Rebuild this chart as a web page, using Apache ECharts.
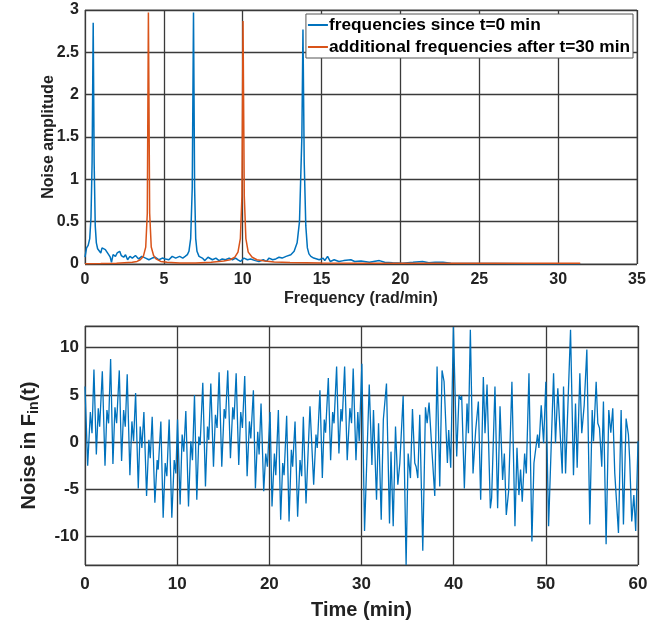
<!DOCTYPE html>
<html>
<head>
    <meta charset="utf-8"/>
    <script src="https://cdn.jsdelivr.net/npm/echarts@6/dist/echarts.min.js"></script>
    <style>html, body {margin: 0; padding: 0; background: #fff;}</style>
</head>
<body>
<div id="main" style="width: 670px;height:627px;"></div>
<script type="text/javascript">
    // spectrum, blue = frequencies since t=0
    var blueFreq = [0, 0.1, 0.2, 0.3, 0.38, 0.45, 0.52, 0.58, 0.65, 0.72, 0.8, 0.9, 1.0, 1.08, 1.2, 1.29, 1.4, 1.5, 1.6, 1.68,
        1.78, 1.93, 2.04, 2.2, 2.3, 2.45, 2.57, 2.7, 2.85, 3.0, 3.2, 3.4, 3.6, 3.84, 4.05, 4.26, 4.45, 4.69, 4.9, 5.1,
        5.32, 5.53, 5.75, 6.0, 6.2, 6.35, 6.49, 6.59, 6.7, 6.8, 6.88, 6.95, 7.02, 7.1, 7.23, 7.44, 7.6, 7.8, 8.08, 8.3,
        8.5, 8.7, 8.91, 9.14, 9.35, 9.55, 9.7, 9.86, 10.08, 10.3, 10.5, 10.8, 11.03, 11.3, 11.5, 11.67, 11.9, 12.1, 12.3, 12.5,
        12.75, 13.05, 13.26, 13.45, 13.6, 13.75, 13.82, 13.9, 14.0, 14.1, 14.2, 14.32, 14.5, 14.85, 15.1, 15.2, 15.38, 15.55, 15.8, 16.1,
        16.4, 16.86, 17.1, 17.5, 18.03, 18.3, 18.66, 19.0, 19.5, 20.14, 20.8, 21.4, 21.8, 22.2, 22.7, 23.2, 24.2, 26, 28, 31.4];
    var blueAmp = [0.08, 0.19, 0.22, 0.3, 0.55, 1.2, 2.85, 1.2, 0.45, 0.25, 0.18, 0.17, 0.13, 0.19, 0.2, 0.17, 0.19, 0.11, 0.08, 0.02,
        0.11, 0.09, 0.13, 0.15, 0.1, 0.08, 0.11, 0.05, 0.09, 0.07, 0.1, 0.06, 0.09, 0.07, 0.05, 0.07, 0.08, 0.05, 0.07, 0.06,
        0.05, 0.09, 0.07, 0.09, 0.07, 0.09, 0.11, 0.15, 0.3, 0.9, 2.97, 0.9, 0.3, 0.15, 0.09, 0.07, 0.04, 0.08, 0.05, 0.07,
        0.04, 0.06, 0.05, 0.07, 0.05, 0.07, 0.05, 0.03, 0.07, 0.05, 0.06, 0.04, 0.03, 0.05, 0.03, 0.07, 0.05, 0.06, 0.08, 0.07,
        0.09, 0.11, 0.15, 0.25, 0.5, 1.5, 2.77, 1.2, 0.45, 0.19, 0.12, 0.09, 0.07, 0.05, 0.07, 0.04, 0.09, 0.03, 0.05, 0.03,
        0.04, 0.05, 0.03, 0.035, 0.02, 0.03, 0.04, 0.02, 0.015, 0.01, 0.02, 0.03, 0.015, 0.02, 0.02, 0.01, 0.005, 0.005, 0.004, 0.003];

    // spectrum, orange = additional frequencies after t=30
    var orangeFreq = [0, 1, 2, 2.5, 3.0, 3.3, 3.5, 3.7, 3.85, 3.95, 4.02, 4.1, 4.2, 4.35, 4.5, 4.8, 5.2, 6, 7, 8,
        8.8, 9.2, 9.5, 9.7, 9.85, 9.95, 10.02, 10.1, 10.2, 10.35, 10.6, 10.9, 11.4, 12, 13, 15, 18, 22, 26, 31.4];
    var orangeAmp = [0.003, 0.005, 0.01, 0.015, 0.02, 0.03, 0.05, 0.09, 0.2, 0.6, 2.97, 0.6, 0.2, 0.1, 0.06, 0.03, 0.02, 0.012, 0.012, 0.02,
        0.035, 0.05, 0.08, 0.14, 0.3, 0.8, 2.87, 0.8, 0.3, 0.14, 0.08, 0.05, 0.035, 0.025, 0.018, 0.012, 0.01, 0.008, 0.008, 0.008];

    // noise signal in time (min, value)
    var noiseT = [0, 0.29, 0.58, 0.76, 0.97, 1.23, 1.44, 1.59, 1.88, 2.17, 2.38, 2.56, 2.78, 3.03, 3.25, 3.43, 3.72, 3.97, 4.19, 4.37,
        4.58, 4.87, 5.09, 5.27, 5.49, 5.78, 5.99, 6.17, 6.39, 6.68, 6.93, 7.08, 7.29, 7.58, 7.83, 7.94, 8.23, 8.48, 8.7, 8.88,
        9.13, 9.42, 9.68, 9.86, 10.04, 10.32, 10.54, 10.72, 10.94, 11.23, 11.48, 11.66, 11.88, 12.13, 12.35, 12.49, 12.78, 13.07, 13.29, 13.43,
        13.65, 13.94, 14.15, 14.33, 14.55, 14.84, 15.1, 15.25, 15.49, 15.78, 16.03, 16.17, 16.4, 16.68, 16.9, 17.08, 17.33, 17.59, 17.84, 17.99,
        18.27, 18.49, 18.74, 18.89, 19.1, 19.39, 19.61, 19.79, 20.08, 20.29, 20.55, 20.7, 20.98, 21.23, 21.45, 21.6, 21.88, 22.14, 22.39, 22.53,
        22.79, 23.07, 23.33, 23.51, 23.69, 23.98, 24.2, 24.41, 24.81, 25.06, 25.2, 25.49, 25.75, 25.96, 26.1, 26.4, 26.65, 26.87, 27.02, 27.3,
        27.55, 27.77, 27.9, 28.17, 28.45, 28.74, 28.92, 29.1, 29.4, 29.6, 29.75, 30.04, 30.33, 30.84, 31.13, 31.3, 31.63, 31.85, 32.14, 32.37,
        32.71, 33.04, 33.2, 33.44, 33.69, 33.94, 34.16, 34.52, 34.84, 35.06, 35.31, 35.53, 35.78, 35.93, 36.11, 36.32, 36.65, 36.94, 37.12, 37.33,
        37.66, 37.95, 38.2, 38.49, 38.74, 38.96, 39.32, 39.46, 39.68, 39.97, 40.33, 40.58, 40.77, 40.87, 41.16, 41.45, 41.6, 41.81, 42.1, 42.39,
        42.68, 42.93, 43.22, 43.4, 43.62, 43.98, 44.12, 44.48, 44.77, 45.03, 45.31, 45.5, 45.71, 45.96, 46.32, 46.65, 46.87, 47.08, 47.26, 47.44,
        47.7, 47.88, 48.17, 48.49, 48.71, 48.89, 49.1, 49.25, 49.5, 49.76, 50.0, 50.3, 50.84, 51.05, 51.3, 51.49, 51.78, 51.92, 52.14, 52.68,
        53.0, 53.22, 53.4, 53.69, 53.9, 54.16, 54.45, 54.77, 55.03, 55.17, 55.46, 55.64, 55.82, 56.07, 56.25, 56.54, 56.83, 57.05, 57.26, 57.48,
        57.62, 57.88, 58.17, 58.42, 58.71, 58.96, 59.1, 59.32, 59.55, 59.75, 60];
    var noiseV = [5.9, -2.5, 3.2, 0.95, 7.7, -1.3, 3.6, 1.65, 7.5, -2.5, 3.4, 2.0, 8.8, -2.3, 3.7, 2.0, 7.6, -2.0, 3.4, 1.65,
        7.2, -3.5, 2.2, 0.1, 5.2, -4.9, 1.65, -0.6, 3.2, -5.7, 0.25, -1.7, 2.7, -6.4, -1.9, -2.9, 2.2, -8.0, -2.2, -3.6,
        2.4, -8.0, -1.9, -3.3, 2.4, -6.6, 0.8, -1.0, 3.3, -6.8, 0.1, -1.9, 5.0, -6.1, 0.6, -0.3, 6.3, -4.7, 1.65, 0.25,
        6.2, -2.6, 2.9, 1.5, 7.4, -2.6, 3.5, 2.5, 7.6, -1.7, 3.7, 2.4, 7.3, -2.4, 3.2, 1.5, 7.0, -3.6, 2.2, 0.4,
        5.5, -4.9, 1.1, -1.3, 4.1, -5.2, -1.2, -2.6, 3.2, -6.8, -1.2, -3.5, 3.4, -8.2, -2.2, -3.5, 2.8, -8.4, -0.8, -2.6,
        2.2, -7.9, -1.9, -3.6, 2.7, -6.5, -1.2, 3.8, -4.5, 0.8, -0.6, 5.5, -3.8, 2.4, 1.0, 6.8, -1.9, 3.2, 2.0, 8.0,
        -1.2, 3.5, 2.2, 8.0, -1.9, 3.6, 2.0, 7.8, -1.9, 3.2, 0.1, 8.3, -9.4, 6.1, -2.4, 3.4, -6.1, 2.0, -8.2, 2.4,
        6.2, -8.6, -1.0, -8.9, 1.65, -4.5, -2.2, 4.9, -13.0, -1.2, -3.8, 3.5, -2.2, -2.6, -3.8, 2.9, -11.5, 3.7, 2.0, 4.2,
        -1.2, -5.7, 8.0, -4.7, 7.6, 6.4, -2.2, 1.3, -2.7, 12.2, -1.5, 5.0, 4.5, 4.9, -4.9, 4.1, 0.95, 11.9, -3.3, 1.3,
        4.3, -6.1, 6.9, 0.95, 6.1, -7.0, -5.9, 5.9, -7.0, 3.8, -4.0, -1.2, -7.7, -5.2, 6.4, -8.9, -0.6, -5.6, -2.9, -6.3,
        -1.2, -3.3, 7.3, -10.5, -2.2, -2.2, 0.8, -0.6, 3.9, -0.1, 6.4, -8.9, 7.3, -0.1, 5.7, 5.7, -3.3, 5.9, -3.3, 11.9,
        -3.5, 4.1, -2.7, 7.3, 0.95, 3.9, 9.8, -8.7, 3.4, 0.1, 6.4, 2.0, 1.5, -2.6, 4.3, -10.8, 3.4, 1.0, 3.6, -3.3,
        -3.5, -9.6, 3.4, -8.7, 2.5, 0.8, -1.9, -8.4, -5.6, -9.4, 0.1];

    var freqTicks = [0, 5, 10, 15, 20, 25, 30, 35];
    var timeTicks = [0, 10, 20, 30, 40, 50, 60];

    function pairs(xs, ys) {
        return xs.map(function (x, i) { return [x, ys[i]]; });
    }

    var myChart = echarts.init(document.getElementById('main'));
    var FONT = 'Liberation Sans';
    var gridLine = {show: true, lineStyle: {color: '#3a3a3a', width: 1.3}};

    option = {
        animation: false,
        backgroundColor: '#fff',
        textStyle: {fontFamily: FONT},
        grid: [
            {left: 85, top: 10, width: 552, height: 254, show: true, borderColor: '#808080', borderWidth: 1},
            {left: 85, top: 326, width: 553, height: 239, show: true, borderColor: '#808080', borderWidth: 1}
        ],
        legend: {
            data: ['frequencies since t=0 min', 'additional frequencies after t=30 min'],
            orient: 'vertical',
            right: 37,
            top: 14,
            icon: 'rect',
            itemWidth: 20,
            itemHeight: 2,
            itemGap: 2,
            padding: [1, 3, 1, 2],
            backgroundColor: '#fff',
            borderColor: '#555',
            borderWidth: 1,
            borderRadius: 0,
            textStyle: {fontFamily: FONT, fontWeight: 'bold', fontSize: 17.3, color: '#000', padding: [0, 0, 0, -4], lineHeight: 20}
        },
        xAxis: [
            {
                type: 'value', gridIndex: 0, min: freqTicks[0], max: freqTicks[freqTicks.length - 1], interval: 5,
                name: 'Frequency (rad/min)', nameLocation: 'middle', nameGap: 27,
                nameTextStyle: {fontFamily: FONT, fontWeight: 'bold', fontSize: 16, color: '#222'},
                axisLine: {show: false}, axisTick: {show: false},
                axisLabel: {fontFamily: FONT, fontWeight: 'bold', fontSize: 16, color: '#222', margin: 8},
                splitLine: gridLine
            },
            {
                type: 'value', gridIndex: 1, min: timeTicks[0], max: timeTicks[timeTicks.length - 1], interval: 10,
                name: 'Time (min)', nameLocation: 'middle', nameGap: 35,
                nameTextStyle: {fontFamily: FONT, fontWeight: 'bold', fontSize: 20, color: '#222'},
                axisLine: {show: false}, axisTick: {show: false},
                axisLabel: {fontFamily: FONT, fontWeight: 'bold', fontSize: 17, color: '#222', margin: 11},
                splitLine: gridLine
            }
        ],
        yAxis: [
            {
                type: 'value', gridIndex: 0, min: 0, max: 3, interval: 0.5,
                name: 'Noise amplitude', nameLocation: 'middle', nameGap: 28, nameMoveOverlap: false,
                nameTextStyle: {fontFamily: FONT, fontWeight: 'bold', fontSize: 16, color: '#222'},
                axisLine: {show: false}, axisTick: {show: false},
                axisLabel: {fontFamily: FONT, fontWeight: 'bold', fontSize: 16, color: '#222', margin: 6},
                splitLine: gridLine
            },
            {
                type: 'value', gridIndex: 1, min: -13, max: 12.3, splitNumber: 5,
                name: '{b|Noise in F}{s|in}{b|(t)}', nameLocation: 'middle', nameGap: 43,
                nameTextStyle: {
                    rich: {
                        b: {fontFamily: FONT, fontWeight: 'bold', fontSize: 20, color: '#222', lineHeight: 26},
                        s: {fontFamily: FONT, fontWeight: 'bold', fontSize: 14, color: '#222', lineHeight: 26, padding: [10, 0, 0, 0]}
                    }
                },
                axisLine: {show: false}, axisTick: {show: false},
                axisLabel: {
                    fontFamily: FONT, fontWeight: 'bold', fontSize: 17, color: '#222', margin: 6,
                    formatter: function (v) { return v % 5 === 0 ? String(v) : ''; }
                },
                splitLine: gridLine
            }
        ],
        series: [
            {
                name: 'frequencies since t=0 min', type: 'line', xAxisIndex: 0, yAxisIndex: 0,
                showSymbol: false, symbol: 'none', color: '#0072BD',
                lineStyle: {width: 1.5, color: '#0072BD'},
                data: pairs(blueFreq, blueAmp)
            },
            {
                name: 'additional frequencies after t=30 min', type: 'line', xAxisIndex: 0, yAxisIndex: 0,
                showSymbol: false, symbol: 'none', color: '#D95319',
                lineStyle: {width: 1.5, color: '#D95319'},
                data: pairs(orangeFreq, orangeAmp)
            },
            {
                name: 'noise', type: 'line', xAxisIndex: 1, yAxisIndex: 1,
                showSymbol: false, symbol: 'none',
                lineStyle: {width: 1.3, color: '#0072BD'},
                data: pairs(noiseT, noiseV)
            }
        ]
    };

    myChart.setOption(option);
</script>
</body>
</html>
